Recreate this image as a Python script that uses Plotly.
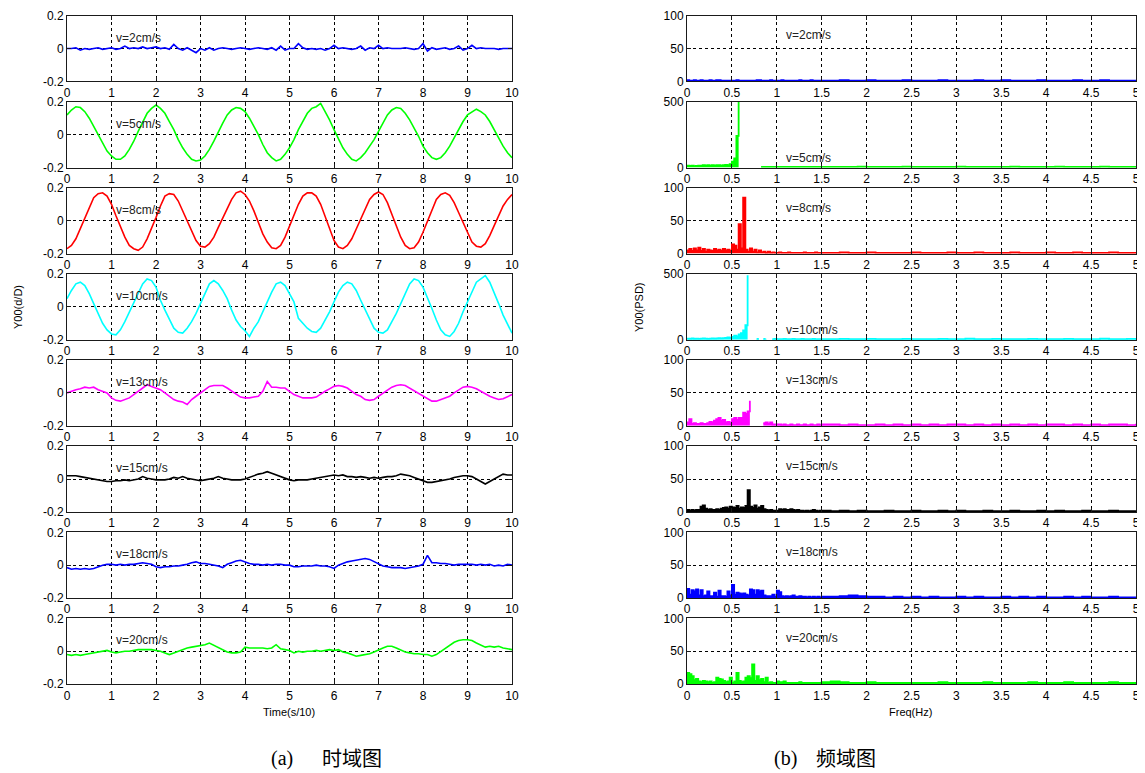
import numpy as np
import plotly.graph_objects as go

# ---------------- sampling grids ----------------
TIME = np.round(np.arange(0, 10.0001, 0.1), 2)            # 101 samples
FREQ_LOW = np.round(np.arange(0, 1.5001, 0.025), 3)        # 61 samples
FREQ_HIGH = np.round(np.arange(1.6, 5.0001, 0.1), 2)       # 35 samples

LABELS = ["v=2cm/s", "v=5cm/s", "v=8cm/s", "v=10cm/s",
          "v=13cm/s", "v=15cm/s", "v=18cm/s", "v=20cm/s"]
COLORS = ["#0000FF", "#00FF00", "#FF0000", "#00FFFF",
          "#FF00FF", "#000000", "#0000FF", "#00FF00"]
PSD_MAX = [100, 500, 100, 500, 100, 100, 100, 100]

TIME_TICKS = [0, 1, 2, 3, 4, 5, 6, 7, 8, 9, 10]
FREQ_TICKS = [0, 0.5, 1, 1.5, 2, 2.5, 3, 3.5, 4, 4.5, 5]
DISP_TICKS = [-0.2, 0, 0.2]
DISP_TICKTEXT = ["-0.2", "0", "0.2"]

# ---------------- time-domain series (Y00 d/D) ----------------
disp_v2 = [0.00, 0.00, 0.005, -0.01, 0.00, -0.005, 0.00, 0.005, -0.005, 0.00,
           0.005, -0.005, 0.00, 0.015, 0.00, 0.005, 0.00, 0.01, 0.00, 0.005,
           0.01, 0.00, 0.005, -0.005, 0.025, 0.00, -0.01, 0.005, -0.01, -0.025,
           0.00, -0.01, 0.005, -0.01, 0.00, 0.005, 0.00, -0.005, 0.00, 0.005,
           0.00, -0.005, 0.00, 0.005, 0.00, -0.005, 0.005, -0.01, 0.015, -0.01,
           0.00, 0.00, 0.03, 0.005, -0.005, 0.00, -0.005, 0.00, -0.01, 0.00,
           0.02, 0.00, 0.005, 0.00, -0.005, 0.00, 0.015, -0.01, 0.005, 0.00,
           0.02, 0.00, 0.005, 0.00, 0.00, 0.00, 0.005, 0.00, -0.005, 0.00,
           0.03, -0.015, 0.005, -0.005, 0.00, 0.005, -0.005, 0.00, 0.015, -0.01,
           0.00, 0.02, 0.00, 0.005, 0.00, 0.00, 0.00, -0.005, 0.00, 0.00,
           0.00]
disp_v5 = [0.12, 0.15, 0.17, 0.165, 0.14, 0.10, 0.05, 0.00, -0.05, -0.10,
           -0.13, -0.15, -0.15, -0.13, -0.09, -0.04, 0.02, 0.08, 0.13, 0.16,
           0.18, 0.16, 0.13, 0.08, 0.03, -0.03, -0.08, -0.12, -0.15, -0.16,
           -0.155, -0.13, -0.09, -0.04, 0.02, 0.07, 0.12, 0.15, 0.165, 0.16,
           0.14, 0.10, 0.05, 0.00, -0.06, -0.11, -0.14, -0.16, -0.15, -0.12,
           -0.08, -0.03, 0.03, 0.08, 0.13, 0.16, 0.17, 0.19, 0.14, 0.09,
           0.03, -0.03, -0.08, -0.12, -0.15, -0.16, -0.14, -0.11, -0.07, -0.03,
           0.02, 0.07, 0.12, 0.15, 0.165, 0.16, 0.13, 0.09, 0.04, -0.01,
           -0.07, -0.11, -0.14, -0.15, -0.14, -0.11, -0.07, -0.02, 0.03, 0.08,
           0.12, 0.14, 0.155, 0.14, 0.12, 0.08, 0.03, -0.02, -0.07, -0.11,
           -0.14]
disp_v8 = [-0.17, -0.15, -0.11, -0.05, 0.01, 0.08, 0.14, 0.165, 0.17, 0.15,
           0.10, 0.03, -0.04, -0.10, -0.15, -0.17, -0.18, -0.16, -0.11, -0.05,
           0.02, 0.09, 0.15, 0.165, 0.16, 0.12, 0.06, -0.01, -0.07, -0.12,
           -0.155, -0.16, -0.14, -0.10, -0.04, 0.02, 0.08, 0.13, 0.17, 0.18,
           0.16, 0.12, 0.06, -0.01, -0.08, -0.13, -0.165, -0.17, -0.15, -0.10,
           -0.03, 0.04, 0.10, 0.15, 0.17, 0.17, 0.15, 0.10, 0.03, -0.05,
           -0.12, -0.16, -0.17, -0.15, -0.11, -0.05, 0.01, 0.08, 0.13, 0.16,
           0.175, 0.16, 0.11, 0.04, -0.03, -0.10, -0.15, -0.17, -0.165, -0.13,
           -0.07, 0.00, 0.07, 0.13, 0.16, 0.17, 0.155, 0.11, 0.05, -0.01,
           -0.08, -0.13, -0.155, -0.16, -0.14, -0.09, -0.03, 0.03, 0.09, 0.13,
           0.16]
disp_v10 = [0.05, 0.10, 0.14, 0.15, 0.13, 0.08, 0.02, -0.04, -0.10, -0.14,
            -0.165, -0.17, -0.14, -0.09, -0.03, 0.03, 0.09, 0.14, 0.17, 0.16,
            0.12, 0.04, -0.02, -0.08, -0.13, -0.155, -0.16, -0.13, -0.09, -0.04,
            0.02, 0.09, 0.14, 0.16, 0.14, 0.10, 0.05, -0.02, -0.08, -0.12,
            -0.145, -0.18, -0.13, -0.09, -0.03, 0.04, 0.09, 0.14, 0.15, 0.13,
            0.08, 0.03, -0.07, -0.10, -0.13, -0.15, -0.155, -0.13, -0.08, -0.03,
            0.03, 0.09, 0.13, 0.15, 0.14, 0.10, 0.04, -0.02, -0.08, -0.13,
            -0.155, -0.16, -0.14, -0.09, -0.04, 0.02, 0.08, 0.14, 0.17, 0.16,
            0.12, 0.06, -0.01, -0.08, -0.14, -0.17, -0.18, -0.15, -0.10, -0.03,
            0.03, 0.10, 0.15, 0.17, 0.19, 0.15, 0.09, 0.02, -0.05, -0.11,
            -0.16]
disp_v13 = [0.00, 0.01, 0.02, 0.025, 0.035, 0.03, 0.035, 0.02, 0.01, 0.00,
            -0.03, -0.045, -0.05, -0.04, -0.03, -0.01, 0.01, 0.03, 0.05, 0.04,
            0.03, 0.02, 0.00, -0.02, -0.04, -0.05, -0.055, -0.07, -0.04, -0.02,
            0.00, 0.02, 0.04, 0.045, 0.045, 0.045, 0.03, 0.01, -0.01, -0.025,
            -0.03, -0.03, -0.025, -0.02, 0.01, 0.07, 0.035, 0.035, 0.03, 0.03,
            0.01, -0.01, -0.02, -0.03, -0.03, -0.03, -0.025, -0.005, 0.01, 0.025,
            0.04, 0.045, 0.04, 0.03, 0.01, -0.01, -0.02, -0.04, -0.045, -0.04,
            -0.02, 0.00, 0.02, 0.035, 0.045, 0.05, 0.045, 0.03, 0.01, 0.00,
            -0.02, -0.035, -0.05, -0.05, -0.04, -0.03, -0.02, 0.00, 0.02, 0.035,
            0.04, 0.035, 0.025, 0.01, -0.01, -0.02, -0.03, -0.04, -0.035, -0.02,
            -0.01]
disp_v15 = [0.02, 0.02, 0.02, 0.015, 0.01, 0.005, 0.00, -0.005, -0.01, -0.015,
            -0.015, -0.01, -0.01, -0.005, -0.01, -0.005, 0.00, 0.015, 0.005, 0.00,
            -0.005, -0.005, -0.005, 0.00, 0.01, 0.005, 0.015, 0.005, 0.00, -0.005,
            -0.01, -0.005, 0.00, 0.005, 0.015, 0.005, 0.00, -0.005, -0.005, -0.005,
            0.00, 0.01, 0.02, 0.03, 0.035, 0.045, 0.035, 0.025, 0.015, 0.005,
            -0.005, -0.01, -0.005, -0.005, -0.005, 0.00, 0.005, 0.01, 0.015, 0.02,
            0.025, 0.02, 0.025, 0.015, 0.015, 0.01, 0.015, 0.01, 0.005, 0.01,
            0.005, 0.01, 0.015, 0.015, 0.02, 0.03, 0.025, 0.02, 0.01, 0.00,
            -0.01, -0.02, -0.02, -0.015, -0.01, -0.005, 0.00, 0.01, 0.015, 0.02,
            0.02, 0.015, 0.00, -0.015, -0.03, -0.015, 0.00, 0.02, 0.03, 0.025,
            0.025]
disp_v18 = [-0.015, -0.025, -0.02, -0.025, -0.02, -0.025, -0.02, -0.01, 0.00, 0.005,
            0.005, 0.00, 0.005, 0.00, 0.005, 0.005, 0.01, 0.015, 0.01, 0.005,
            -0.01, -0.015, -0.01, -0.01, -0.005, -0.005, 0.00, 0.005, 0.015, 0.02,
            0.01, 0.01, 0.005, 0.00, -0.005, -0.015, 0.005, 0.015, 0.025, 0.03,
            0.02, 0.01, 0.005, 0.005, 0.00, 0.005, 0.00, 0.005, 0.005, 0.00,
            0.00, -0.01, -0.01, -0.005, -0.005, -0.005, 0.00, -0.005, -0.005, -0.01,
            -0.02, 0.00, 0.01, 0.02, 0.025, 0.03, 0.035, 0.04, 0.035, 0.02,
            0.005, -0.005, -0.01, -0.015, -0.015, -0.015, -0.02, -0.015, -0.01, -0.005,
            0.005, 0.06, 0.015, 0.015, 0.01, 0.01, 0.005, 0.00, 0.005, 0.005,
            0.005, 0.005, 0.00, 0.005, 0.00, 0.005, -0.005, 0.00, -0.005, 0.005,
            0.00]
disp_v20 = [-0.02, -0.025, -0.02, -0.025, -0.02, -0.015, -0.01, -0.005, 0.00, 0.005,
            -0.005, -0.01, -0.005, 0.00, 0.00, 0.005, 0.01, 0.01, 0.01, 0.01,
            0.005, 0.00, -0.01, -0.02, -0.01, 0.00, 0.01, 0.02, 0.025, 0.03,
            0.035, 0.04, 0.05, 0.035, 0.02, 0.005, -0.005, -0.01, -0.01, -0.005,
            0.025, 0.02, 0.02, 0.02, 0.02, 0.015, 0.02, 0.04, 0.015, 0.01,
            0.005, -0.01, 0.00, -0.005, 0.00, 0.00, 0.005, 0.00, 0.005, 0.01,
            0.005, 0.01, -0.005, -0.01, -0.02, -0.03, -0.025, -0.02, -0.015, -0.005,
            0.01, 0.02, 0.03, 0.03, 0.02, 0.005, -0.005, -0.01, -0.015, -0.015,
            -0.02, -0.02, -0.03, -0.02, 0.00, 0.02, 0.04, 0.055, 0.065, 0.07,
            0.07, 0.065, 0.05, 0.035, 0.025, 0.03, 0.025, 0.03, 0.02, 0.015,
            0.01]

# ---------------- frequency-domain series (Y00 PSD) ----------------
N = None
psd_v2_low = [2, 1, 1, 2, 1, 1, 2, 1, 1, 1,
              2, 1, 1, 2, 2, 1, 1, 1, 1, 1,
              1, 1, 2, 1, 1, 1, 1, 1, 1, 1,
              1, 2, 2, 1, 1, 1, 1, 2, 1, 1,
              1, 1, 2, 1, 1, 1, 1, 1, 1, 1,
              2, 1, 1, 1, 1, 2, 1, 1, 1, 1,
              1]
psd_v2_high = [1, 2, 1, 1, 2, 1, 1, 1, 2, 1,
               1, 1, 2, 1, 1, 1, 2, 1, 1, 2,
               1, 1, 1, 2, 1, 1, 1, 2, 1, 1,
               2, 1, 1, 1, 2]
psd_v5_low = [15, 12, 15, 10, 12, 15, 15, 18, 15, 18,
              15, 18, 15, 18, 18, 15, 18, 20, 18, 25,
              45, 70, 240, 520, N, N, N, N, N, N,
              N, N, N, 5, 4, 5, 4, 5, 4, 4,
              5, 4, 4, 5, 4, 4, 5, 4, 4, 5,
              4, 4, 5, 4, 4, 5, 4, 4, 4, 5,
              4]
psd_v5_high = [5, 4, 5, 6, 4, 5, 4, 5, 6, 4,
               5, 4, 5, 4, 6, 5, 4, 5, 4, 5,
               6, 4, 5, 4, 5, 6, 4, 5, 4, 5,
               6, 5, 4, 5, 6]
psd_v8_low = [5, 7, 4, 8, 5, 9, 4, 7, 3, 6,
              5, 4, 7, 5, 6, 4, 7, 5, 6, 4,
              14, 12, 6, 45, 8, 85, 6, 3, 8, 3,
              6, 2, 5, 2, 3, 1, 3, 1, 2, 1,
              1, 2, 1, 1, 1, 2, 1, 1, 1, 1,
              1, 1, 2, 1, 1, 1, 1, 2, 1, 1,
              1]
psd_v8_high = [1, 2, 1, 1, 2, 1, 1, 1, 1, 2,
               1, 1, 1, 2, 1, 1, 2, 1, 1, 1,
               2, 1, 1, 1, 2, 1, 1, 2, 1, 1,
               1, 2, 1, 1, 2]
psd_v10_low = [8, 6, 10, 6, 8, 6, 8, 10, 8, 6,
               8, 10, 8, 10, 12, 10, 12, 14, 18, 15,
               22, 30, 25, 40, 50, 70, 110, 490, N, N,
               N, 6, 6, N, 6, 8, N, N, 5, 6,
               5, 5, 5, 6, 5, 5, 5, 6, 5, 5,
               5, 6, 5, 5, 5, 5, 6, 5, 5, 5,
               5]
psd_v10_high = [5, 6, 5, 5, 6, 5, 5, 5, 6, 5,
                5, 5, 6, 5, 5, 8, 5, 5, 6, 5,
                5, 5, 6, 5, 5, 5, 6, 5, 5, 5,
                8, 5, 5, 6, 5]
psd_v13_low = [5, 10, 3, 4, 3, 3, 4, 3, 3, 4,
               6, 5, 8, 10, 12, 8, 9, 5, 6, 4,
               10, 12, 9, 12, 12, 20, 18, 22, 38, N,
               N, N, N, N, 4, 5, 3, 5, 2, 2,
               2, 2, 1, 2, 1, 1, 2, 1, 1, 2,
               1, 1, 2, 1, 1, 2, 1, 1, 2, 1,
               2]
psd_v13_high = [2, 1, 2, 1, 1, 2, 1, 2, 1, 2,
                1, 2, 1, 2, 2, 1, 2, 1, 2, 1,
                2, 1, 2, 1, 2, 2, 1, 2, 1, 2,
                1, 2, 2, 1, 3]
psd_v15_low = [3, 2, 3, 2, 3, 3, 8, 10, 5, 3,
               4, 3, 3, 4, 3, 5, 6, 7, 5, 8,
               7, 6, 9, 5, 7, 6, 9, 33, 8, 6,
               10, 5, 7, 9, 4, 3, 2, 3, 2, 2,
               2, 4, 3, 4, 3, 3, 4, 3, 2, 3,
               2, 2, 1, 2, 1, 2, 3, 2, 1, 2,
               2]
psd_v15_high = [1, 2, 1, 2, 1, 1, 2, 1, 1, 2,
                1, 1, 2, 1, 2, 1, 1, 2, 1, 1,
                2, 1, 1, 2, 1, 2, 1, 1, 2, 1,
                1, 2, 1, 1, 2]
psd_v18_low = [14, 5, 12, 10, 13, 4, 12, 3, 4, 10,
               3, 3, 8, 2, 11, 3, 3, 2, 10, 4,
               20, 5, 8, 7, 6, 7, 5, 4, 13, 12,
               5, 12, 10, 11, 4, 3, 3, 3, 5, 2,
               11, 9, 3, 2, 3, 2, 3, 4, 2, 2,
               3, 2, 2, 1, 2, 1, 2, 1, 2, 1,
               2]
psd_v18_high = [2, 3, 4, 3, 2, 2, 1, 2, 1, 2,
                1, 2, 1, 1, 2, 1, 2, 1, 1, 2,
                1, 2, 1, 2, 1, 1, 2, 1, 2, 1,
                1, 2, 1, 1, 2]
psd_v20_low = [17, 15, 12, 6, 8, 4, 3, 5, 4, 3,
               4, 2, 3, 10, 8, 7, 5, 3, 4, 10,
               2, 4, 17, 5, 3, 4, 10, 12, 9, 30,
               5, 12, 6, 8, 3, 10, 2, 3, 2, 2,
               4, 3, 3, 4, 2, 2, 2, 2, 2, 2,
               3, 2, 2, 2, 2, 2, 2, 2, 2, 2,
               3]
psd_v20_high = [4, 3, 2, 2, 3, 2, 2, 2, 2, 2,
                2, 2, 3, 2, 2, 2, 2, 3, 2, 2,
                2, 2, 3, 2, 2, 2, 3, 2, 2, 2,
                2, 3, 2, 2, 3]

DISP = [disp_v2, disp_v5, disp_v8, disp_v10, disp_v13, disp_v15, disp_v18, disp_v20]
PSD = [(psd_v2_low, psd_v2_high), (psd_v5_low, psd_v5_high), (psd_v8_low, psd_v8_high),
       (psd_v10_low, psd_v10_high), (psd_v13_low, psd_v13_high),
       (psd_v15_low, psd_v15_high), (psd_v18_low, psd_v18_high),
       (psd_v20_low, psd_v20_high)]

# ---------------- layout geometry ----------------
# The page body has an 8px default margin, so the figure is drawn 8px in
# from the window corner; all positions below are window pixels minus 8.
OFF = 8
W, H = 1145 - OFF, 773 - OFF


def px(xw):
    return (xw - OFF) / W


def py(yw):
    return 1 - (yw - OFF) / H


LEFT_X = (67, 512)
RIGHT_X = (687, 1136)
ROW_TOP0, ROW_STEP, ROW_H = 15.7, 86.1, 65.7

FONT = "Liberation Sans, Arial, Helvetica, sans-serif"
AXIS_COLOR = "#1a1a1a"

fig = go.Figure()
layout = dict(
    width=W, height=H,
    margin=dict(l=0, r=0, t=0, b=0, autoexpand=False),
    paper_bgcolor="white", plot_bgcolor="white",
    showlegend=False,
    font=dict(family=FONT, size=12, color="black"),
)
annotations = []

FREQ = list(FREQ_LOW) + list(FREQ_HIGH)


def axis_common():
    return dict(
        showline=True, linecolor=AXIS_COLOR, linewidth=1, mirror="ticks",
        ticks="inside", ticklen=4, tickcolor=AXIS_COLOR, tickwidth=1,
        showgrid=True, gridcolor="#000000", gridwidth=1, griddash="3px,3px",
        zeroline=False, automargin=False,
        tickfont=dict(family=FONT, size=12, color="black"),
        fixedrange=True,
    )


def split_runs(xs, ys):
    """Split a series at missing values into continuous runs."""
    runs, cx, cy = [], [], []
    for x, y in zip(xs, ys):
        if y is None:
            if len(cx) > 1:
                runs.append((cx, cy))
            cx, cy = [], []
        else:
            cx.append(x)
            cy.append(y)
    if len(cx) > 1:
        runs.append((cx, cy))
    return runs


for i in range(8):
    top = ROW_TOP0 + i * ROW_STEP
    bot = top + ROW_H
    ydom = [py(bot), py(top)]
    for side in range(2):
        n = 2 * i + 1 + side
        xname = "xaxis" if n == 1 else f"xaxis{n}"
        yname = "yaxis" if n == 1 else f"yaxis{n}"
        xref = "x" if n == 1 else f"x{n}"
        yref = "y" if n == 1 else f"y{n}"
        xa = axis_common()
        ya = axis_common()
        if side == 0:
            xa.update(domain=[px(LEFT_X[0]), px(LEFT_X[1])], range=[0, 10],
                      tickvals=TIME_TICKS, anchor=yref)
            ya.update(domain=ydom, range=[-0.2, 0.2], tickvals=DISP_TICKS,
                      ticktext=DISP_TICKTEXT, anchor=xref)
            fig.add_trace(go.Scatter(
                x=TIME, y=DISP[i], mode="lines", xaxis=xref, yaxis=yref,
                line=dict(color=COLORS[i], width=1.6), hoverinfo="skip"))
            annotations.append(dict(
                x=1.05, y=0.067, xref=xref, yref=yref, text=LABELS[i],
                showarrow=False, xanchor="left", yanchor="middle",
                font=dict(family=FONT, size=12, color="#222222")))
        else:
            ymax = PSD_MAX[i]
            xa.update(domain=[px(RIGHT_X[0]), px(RIGHT_X[1])], range=[0, 5],
                      tickvals=FREQ_TICKS, anchor=yref)
            yt = [0, 500] if ymax == 500 else [0, 50, 100]
            ya.update(domain=ydom, range=[0, ymax], tickvals=yt, anchor=xref)
            low, high = PSD[i]
            for rx, ry in split_runs(FREQ, list(low) + list(high)):
                fig.add_trace(go.Scatter(
                    x=rx, y=ry, mode="lines",
                    xaxis=xref, yaxis=yref, fill="tozeroy", fillcolor=COLORS[i],
                    line=dict(color=COLORS[i], width=1.8, shape="hv"),
                    hoverinfo="skip"))
            annotations.append(dict(
                x=1.08, y=ymax * 0.7 if ymax == 100 else ymax * 0.143,
                xref=xref, yref=yref, text=LABELS[i],
                showarrow=False, xanchor="left", yanchor="middle",
                font=dict(family=FONT, size=12, color="#222222")))
        layout[xname] = xa
        layout[yname] = ya

# axis titles and captions
annotations += [
    dict(x=px(18), y=py(307), xref="paper", yref="paper", text="Y00(d/D)",
         textangle=-90, showarrow=False, xanchor="center", yanchor="middle",
         font=dict(family=FONT, size=11, color="black")),
    dict(x=px(639), y=py(307), xref="paper", yref="paper", text="Y00(PSD)",
         textangle=-90, showarrow=False, xanchor="center", yanchor="middle",
         font=dict(family=FONT, size=11, color="black")),
    dict(x=px(289), y=py(712), xref="paper", yref="paper", text="Time(s/10)",
         showarrow=False, xanchor="center", yanchor="middle",
         font=dict(family=FONT, size=11, color="black")),
    dict(x=px(910), y=py(712), xref="paper", yref="paper", text="Freq(Hz)",
         showarrow=False, xanchor="center", yanchor="middle",
         font=dict(family=FONT, size=11, color="black")),
    dict(x=px(282), y=py(758), xref="paper", yref="paper", text="(a)",
         showarrow=False, xanchor="center", yanchor="middle",
         font=dict(family="Liberation Serif, Times New Roman, serif", size=20, color="black")),
    dict(x=px(352), y=py(757), xref="paper", yref="paper", text="时域图",
         showarrow=False, xanchor="center", yanchor="middle",
         font=dict(family="Noto Sans CJK SC", size=20, color="black")),
    dict(x=px(785), y=py(758), xref="paper", yref="paper", text="(b)",
         showarrow=False, xanchor="center", yanchor="middle",
         font=dict(family="Liberation Serif, Times New Roman, serif", size=20, color="black")),
    dict(x=px(846), y=py(757), xref="paper", yref="paper", text="频域图",
         showarrow=False, xanchor="center", yanchor="middle",
         font=dict(family="Noto Sans CJK SC", size=20, color="black")),
]
layout["annotations"] = annotations
fig.update_layout(**layout)
fig.write_html("out.html", config={"displayModeBar": False})
